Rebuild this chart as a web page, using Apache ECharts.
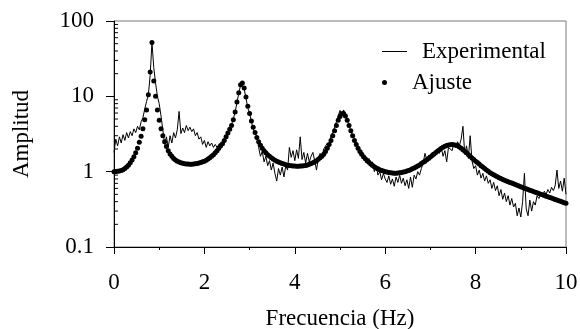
<!DOCTYPE html>
<html>
<head>
<meta charset="utf-8">
<script src="https://cdn.jsdelivr.net/npm/echarts@6/dist/echarts.min.js"></script>
<style>
html, body { margin: 0; padding: 0; background: #fff; }
#main { width: 580px; height: 329px; }
</style>
</head>
<body>
<div id="main"></div>
<script>
// frecuencia: paso de 0.04 Hz desde 0 hasta 10
var step = 0.04;

// Ajuste (puntos)
var ajuste = [
	1.0, 1.003, 1.01, 1.02, 1.035, 1.06, 1.10, 1.15, 1.22, 1.31,
	1.43, 1.58, 1.78, 2.05, 2.45, 2.95, 3.7, 4.9, 6.6, 10.5,
	21, 52, 16, 10, 6.6, 4.8, 3.7, 3.0, 2.5, 2.15,
	1.9, 1.72, 1.6, 1.5, 1.43, 1.38, 1.34, 1.31, 1.29, 1.275,
	1.265, 1.26, 1.255, 1.255, 1.26, 1.27, 1.28, 1.30, 1.32, 1.35,
	1.38, 1.42, 1.47, 1.53, 1.60, 1.68, 1.78, 1.90, 2.05, 2.2,
	2.35, 2.6, 2.9, 3.25, 3.65, 4.1, 4.9, 6.2, 8.4, 11.2,
	14.2, 15.0, 12.9, 9.8, 7.4, 5.9, 4.7, 3.9, 3.3, 2.85,
	2.5, 2.25, 2.05, 1.9, 1.78, 1.68, 1.6, 1.53, 1.47, 1.42,
	1.38, 1.34, 1.31, 1.28, 1.26, 1.24, 1.22, 1.21, 1.20, 1.19,
	1.185, 1.18, 1.18, 1.185, 1.19, 1.20, 1.21, 1.23, 1.25, 1.28,
	1.31, 1.35, 1.40, 1.46, 1.53, 1.6, 1.7, 1.85, 2.05, 2.3,
	2.6, 3.0, 3.5, 4.1, 4.8, 5.4, 5.85, 5.9, 5.5, 4.8,
	4.1, 3.5, 3.0, 2.6, 2.3, 2.05, 1.85, 1.7, 1.58, 1.48,
	1.40, 1.33, 1.26, 1.21, 1.16, 1.12, 1.09, 1.06, 1.04, 1.02,
	1.00, 0.99, 0.975, 0.965, 0.96, 0.955, 0.955, 0.96, 0.965, 0.975,
	0.99, 1.0, 1.02, 1.04, 1.06, 1.09, 1.12, 1.15, 1.19, 1.23,
	1.28, 1.33, 1.38, 1.44, 1.50, 1.57, 1.64, 1.72, 1.80, 1.88,
	1.96, 2.04, 2.11, 2.17, 2.22, 2.26, 2.28, 2.29, 2.28, 2.25,
	2.20, 2.13, 2.05, 1.96, 1.87, 1.78, 1.69, 1.60, 1.52, 1.45,
	1.38, 1.32, 1.26, 1.20, 1.15, 1.10, 1.05, 1.01, 0.97, 0.94,
	0.91, 0.88, 0.855, 0.83, 0.81, 0.79, 0.77, 0.75, 0.735, 0.72,
	0.705, 0.69, 0.675, 0.66, 0.645, 0.63, 0.617, 0.604, 0.592, 0.58,
	0.568, 0.556, 0.545, 0.534, 0.523, 0.512, 0.502, 0.492, 0.482, 0.473,
	0.464, 0.455, 0.446, 0.437, 0.428, 0.42, 0.412, 0.404, 0.396, 0.388,
	0.38
];

// Experimental (linea)
var experimental = [
	1.8, 2.7, 2.2, 2.9, 2.4, 3.1, 2.6, 3.3, 2.8, 3.4,
	3.0, 3.7, 3.3, 4.0, 3.6, 4.6, 5.2, 6.8, 8.5, 10.5,
	19, 52, 24, 15, 10, 8.0, 5.5, 3.6, 2.3, 2.9,
	2.1, 3.0, 2.4, 3.3, 2.8, 3.6, 6.3, 3.2, 3.8, 3.3,
	4.1, 3.5, 3.9, 3.4, 3.7, 3.0, 3.3, 2.7, 2.9, 2.3,
	2.6, 2.1, 2.5, 2.2, 2.4, 2.1, 2.3, 2.1, 2.3, 2.2,
	2.45, 2.7, 3.0, 3.3, 3.6, 4.2, 5.0, 6.2, 8.2, 11,
	14, 14.5, 12.5, 9.5, 7.0, 6.0, 4.6, 3.7, 3.3, 2.9,
	2.1, 1.6, 1.85, 1.35, 1.6, 1.2, 1.4, 1.05, 1.3, 0.95,
	0.75, 1.1, 0.9, 1.15, 0.85, 1.2, 1.05, 2.1, 1.55, 1.9,
	1.4, 1.95, 1.5, 2.9, 1.45, 1.8, 1.3, 1.75, 1.35, 1.6,
	1.8, 1.4, 1.05, 1.5, 1.75, 1.6, 2.0, 1.9, 2.4, 2.2,
	3.0, 3.3, 3.9, 4.6, 5.5, 6.5, 5.9, 6.6, 5.6, 4.7,
	4.2, 3.4, 3.6, 2.7, 2.4, 2.0, 1.7, 1.9, 1.5, 1.6,
	1.3, 1.5, 1.25, 1.35, 1.0, 1.2, 0.9, 1.0, 0.78, 0.95,
	0.8, 0.72, 0.88, 0.68, 0.8, 0.64, 0.85, 0.72, 0.9, 0.7,
	0.82, 0.65, 0.78, 0.6, 0.85, 0.62, 0.9, 0.8, 1.0, 0.9,
	1.1, 1.3, 1.75, 1.45, 1.65, 1.5, 1.8, 1.6, 1.9, 2.0,
	1.75, 2.1, 1.6, 1.9, 1.35, 2.1, 2.2, 1.9, 2.4, 2.1,
	2.5, 2.2, 2.7, 4.0, 1.7, 2.2, 1.5, 3.0, 1.4, 1.1,
	1.2, 0.9, 1.05, 0.82, 0.95, 0.75, 0.88, 0.7, 0.78, 0.6,
	0.72, 0.56, 0.65, 0.48, 0.58, 0.43, 0.52, 0.4, 0.48, 0.36,
	0.44, 0.34, 0.38, 0.26, 0.33, 0.25, 0.4, 0.95, 0.32, 0.26,
	0.42, 0.3, 0.4, 0.36, 0.48, 0.44, 0.5, 0.46, 0.55, 0.5,
	0.58, 0.52, 0.62, 0.56, 0.65, 1.05, 0.6, 0.75, 0.55, 0.82,
	0.5
];

// marcas menores del eje logaritmico
var yMinor = [ 0.2, 0.3, 0.4, 0.5, 0.6, 0.7, 0.8, 0.9, 2, 3, 4, 5, 6, 7, 8, 9,
		20, 30, 40, 50, 60, 70, 80, 90 ];

var serif = 'Liberation Serif';

var expData = experimental.map(function(v, i) {
	return [ i * step, v ];
});
var ajuData = ajuste.map(function(v, i) {
	return [ i * step, v ];
});
var minorData = yMinor.map(function(v) {
	return [ 0, v ];
});

var legendText = {
	fontFamily : serif,
	fontSize : 23,
	color : '#000',
	padding : [ 0, 0, 0, 10 ]
};

var myChart = echarts.init(document.getElementById('main'));
var option = {
	animation : false,
	grid : {
		left : 114,
		right : 14,
		top : 21,
		bottom : 82,
		containLabel : false,
		outerBoundsMode : 'none',
		show : true,
		borderColor : '#777',
		borderWidth : 1
	},
	legend : [ {
		data : [ {
			name : 'Experimental',
			icon : 'rect'
		} ],
		left : 377,
		top : 35,
		itemWidth : 25,
		itemHeight : 1,
		textStyle : legendText
	}, {
		data : [ {
			name : 'Ajuste',
			icon : 'circle'
		} ],
		left : 377,
		top : 66,
		itemWidth : 25,
		itemHeight : 5,
		textStyle : legendText
	} ],
	xAxis : {
		type : 'value',
		min : 0,
		max : 10,
		interval : 2,
		name : 'Frecuencia (Hz)',
		nameLocation : 'middle',
		nameGap : 60,
		nameTextStyle : {
			fontFamily : serif,
			fontSize : 23,
			color : '#000'
		},
		axisLine : {
			lineStyle : {
				color : '#000'
			}
		},
		axisTick : {
			length : 7,
			lineStyle : {
				color : '#000'
			}
		},
		minorTick : {
			show : true,
			splitNumber : 2,
			length : 3,
			lineStyle : {
				color : '#000'
			}
		},
		splitLine : {
			show : false
		},
		axisLabel : {
			margin : 24,
			fontFamily : serif,
			fontSize : 23,
			color : '#000'
		}
	},
	yAxis : {
		type : 'log',
		logBase : 10,
		min : 0.1,
		max : 100,
		name : 'Amplitud',
		nameLocation : 'middle',
		nameGap : 81,
		nameTextStyle : {
			fontFamily : serif,
			fontSize : 23,
			color : '#000'
		},
		axisLine : {
			show : true,
			lineStyle : {
				color : '#000'
			}
		},
		axisTick : {
			length : 8,
			lineStyle : {
				color : '#000'
			}
		},
		splitLine : {
			show : false
		},
		axisLabel : {
			margin : 20,
			fontFamily : serif,
			fontSize : 23,
			color : '#000'
		}
	},
	series : [ {
		name : 'minor',
		type : 'scatter',
		data : minorData,
		symbol : 'rect',
		symbolSize : [ 4, 1 ],
		symbolOffset : [ 2, 0 ],
		itemStyle : {
			color : '#000',
			opacity : 1
		},
		silent : true,
		z : 5
	}, {
		name : 'Experimental',
		type : 'line',
		data : expData,
		symbol : 'none',
		lineStyle : {
			color : '#000',
			width : 1
		},
		itemStyle : {
			color : '#000'
		},
		z : 2
	}, {
		name : 'Ajuste',
		type : 'scatter',
		data : ajuData,
		symbol : 'circle',
		symbolSize : 5,
		itemStyle : {
			color : '#000',
			opacity : 1
		},
		z : 3
	} ]
};
myChart.setOption(option);
</script>
</body>
</html>
